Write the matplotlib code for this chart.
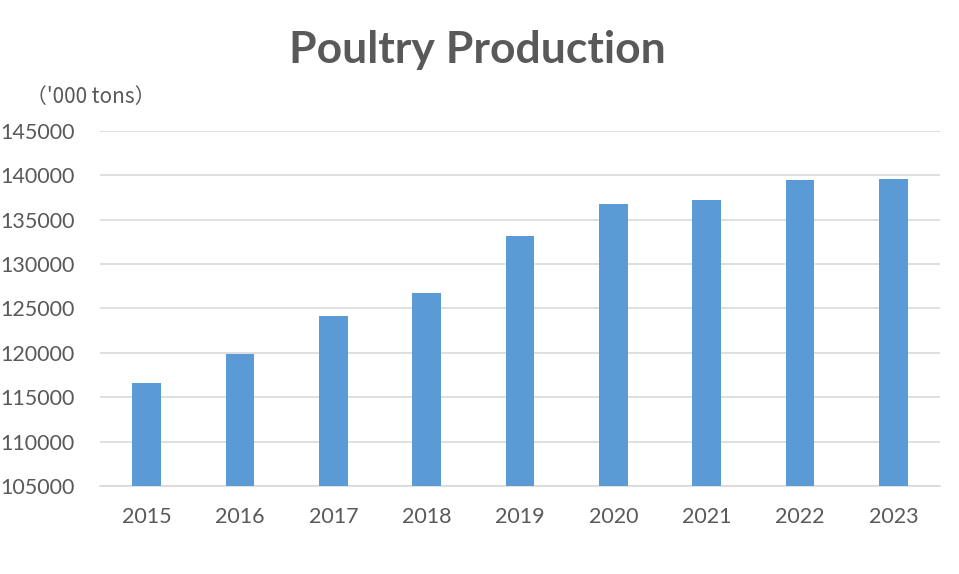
import matplotlib
matplotlib.use('Agg')
import matplotlib.pyplot as plt

years = ['2015', '2016', '2017', '2018', '2019', '2020', '2021', '2022', '2023']
production = [116550, 119920, 124180, 126800, 133200, 136830, 137170, 139500, 139620]
y_ticks = list(range(105000, 145001, 5000))

text_color = '#595959'
fonts = ['Lato', 'Noto Sans CJK SC', 'DejaVu Sans']
plt.rcParams['font.family'] = fonts

fig = plt.figure(figsize=(9.59, 5.74), dpi=100)
ax = fig.add_axes([100 / 959, 1 - 486 / 574, 840 / 959, 355 / 574])

x = range(len(years))
ax.bar(x, production, width=0.31, color='#5b9bd5', zorder=3)

ax.set_xlim(-0.5, len(years) - 0.5)
ax.set_ylim(105000, 145000)
ax.set_yticks(y_ticks)
ax.set_yticklabels([str(v) for v in y_ticks])
ax.set_xticks(list(x))
ax.set_xticklabels(years)

ax.grid(axis='y', color='#d9d9d9', linewidth=1.2, zorder=0)
for side in ['top', 'right', 'left']:
    ax.spines[side].set_visible(False)
ax.spines['bottom'].set_color('#d9d9d9')
ax.spines['bottom'].set_linewidth(1.2)
ax.tick_params(axis='both', length=0, labelsize=15.5, colors=text_color)
ax.tick_params(axis='y', pad=18)
ax.tick_params(axis='x', pad=15)

fig.text(477 / 959, 1 - 50 / 574, 'Poultry Production', ha='center', va='center',
         fontsize=32, fontweight='bold', color=text_color)
fig.text(26 / 959, 1 - 97 / 574, "（'000 tons）", ha='left', va='center',
         fontsize=15, color=text_color, family=['Noto Sans CJK SC', 'DejaVu Sans'])

fig.savefig('out.png', dpi=100)
